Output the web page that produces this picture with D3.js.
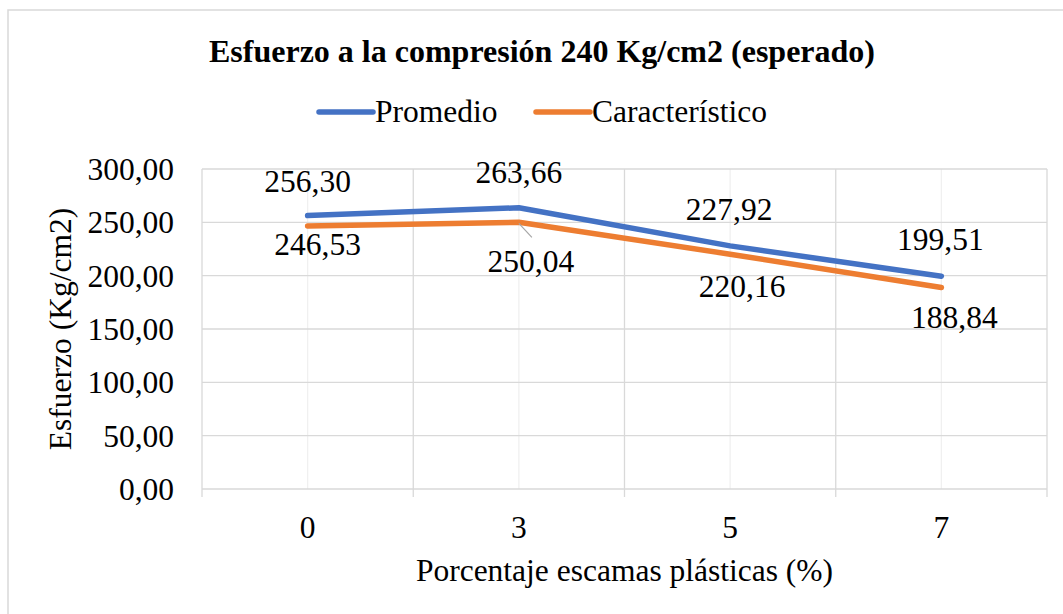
<!DOCTYPE html>
<html>
<head>
<meta charset="utf-8">
<script src="https://cdn.jsdelivr.net/npm/d3@7"></script>
<style>
  html, body { margin: 0; padding: 0; background: #fff; overflow: hidden; }
</style>
</head>
<body>
<div id="chart"></div>
<script>
// ---------------
// data
var categories = ["0", "3", "5", "7"];
var promedio = [256.30, 263.66, 227.92, 199.51];
var caracteristico = [246.53, 250.04, 220.16, 188.84];
var seriesNames = ["Promedio", "Característico"];
var yTicks = [0, 50, 100, 150, 200, 250, 300];

var chartTitle = "Esfuerzo a la compresión 240 Kg/cm2 (esperado)";
var xTitle = "Porcentaje escamas plásticas (%)";
var yTitle = "Esfuerzo (Kg/cm2)";

// label nudges (dx, dy from the point), as placed in the original
var labelNudge = [
    [[0, -24], [0, -25], [-1, -26], [-1, -26]],
    [[10, 29], [12, 50], [12, 43], [13, 40]]
];

var colors = ["#4472C4", "#ED7D31"];
var FF = "'Liberation Serif', 'Times New Roman', serif";
var FS = 31.5;

var W = 1063, H = 614;
var margin = { top: 169, right: 16, bottom: 125, left: 202 };
var width = W - margin.left - margin.right,
    height = H - margin.top - margin.bottom;

var svg = d3.select("#chart").append("svg")
    .attr("width", W)
    .attr("height", H);

// chart frame (cropped on right and bottom)
svg.append("rect")
    .attr("x", 8).attr("y", 10)
    .attr("width", W + 20).attr("height", H + 20)
    .attr("fill", "#fff")
    .attr("stroke", "#d9d9d9")
    .attr("stroke-width", 1.5);

var g = svg.append("g")
    .attr("transform", "translate(" + margin.left + "," + margin.top + ")");

var x = d3.scaleBand().domain(categories).range([0, width]).padding(0);
var y = d3.scaleLinear().domain([0, 300]).range([height, 0]);
var bw = x.bandwidth();
var cx = function(c) { return x(c) + bw / 2; };

var fmt = d3.formatLocale({ decimal: ",", thousands: ".", grouping: [3], currency: ["", ""] }).format(".2f");

// minor vertical grid at category centres
g.selectAll("line.vminor").data(categories).enter().append("line")
    .attr("x1", cx).attr("x2", cx)
    .attr("y1", 0).attr("y2", height)
    .attr("stroke", "#f0f0f0").attr("stroke-width", 1.3);

// major vertical grid at category boundaries
var bounds = categories.map(function(c) { return x(c); }).concat([width]);
g.selectAll("line.vmajor").data(bounds).enter().append("line")
    .attr("x1", function(d) { return d; }).attr("x2", function(d) { return d; })
    .attr("y1", 0).attr("y2", height + 8)
    .attr("stroke", "#d9d9d9").attr("stroke-width", 1.3);

// horizontal grid
g.selectAll("line.hgrid").data(yTicks).enter().append("line")
    .attr("x1", 0).attr("x2", width)
    .attr("y1", function(d) { return y(d); }).attr("y2", function(d) { return y(d); })
    .attr("stroke", "#d9d9d9").attr("stroke-width", 1.3);

// y axis labels
var yAxis = d3.axisLeft(y).tickValues(yTicks).tickFormat(fmt).tickSize(0).tickPadding(28);
var ya = g.append("g").call(yAxis);
ya.select(".domain").remove();
ya.selectAll("text")
    .style("font-family", FF)
    .style("font-size", FS + "px").attr("fill", "#000").attr("dy", "0.33em");

// x axis labels
var xAxis = d3.axisBottom(x).tickSize(0).tickPadding(27);
var xa = g.append("g").attr("transform", "translate(0," + height + ")").call(xAxis);
xa.select(".domain").remove();
xa.selectAll("text")
    .style("font-family", FF)
    .style("font-size", FS + "px").attr("fill", "#000").attr("dy", "0.71em");

// lines
var series = [promedio, caracteristico];
var line = d3.line()
    .x(function(d, i) { return cx(categories[i]); })
    .y(function(d) { return y(d); });

series.forEach(function(s, k) {
    g.append("path")
        .datum(s)
        .attr("d", line)
        .attr("fill", "none")
        .attr("stroke", colors[k])
        .attr("stroke-width", 5.5)
        .attr("stroke-linecap", "round")
        .attr("stroke-linejoin", "round");
});

// leader line for the moved label
g.append("line")
    .attr("x1", cx(categories[1])).attr("y1", y(caracteristico[1]) + 1)
    .attr("x2", cx(categories[1]) + 13).attr("y2", y(caracteristico[1]) + 15)
    .attr("stroke", "#a6a6a6").attr("stroke-width", 1.2);

// data labels
series.forEach(function(s, k) {
    g.selectAll("text.lbl" + k).data(s).enter().append("text")
        .attr("x", function(d, i) { return cx(categories[i]) + labelNudge[k][i][0]; })
        .attr("y", function(d, i) { return y(d) + labelNudge[k][i][1]; })
        .attr("text-anchor", "middle")
        .style("font-family", FF)
        .style("font-size", FS + "px")
        .attr("fill", "#000")
        .text(fmt);
});

// title
svg.append("text")
    .attr("x", 542).attr("y", 62)
    .attr("text-anchor", "middle")
    .style("font-family", FF)
    .style("font-size", "32px")
    .style("font-weight", "bold")
    .text(chartTitle);

// legend
var legendX = [319, 536];
seriesNames.forEach(function(n, k) {
    svg.append("line")
        .attr("x1", legendX[k]).attr("x2", legendX[k] + 54)
        .attr("y1", 112).attr("y2", 112)
        .attr("stroke", colors[k]).attr("stroke-width", 5.5)
        .attr("stroke-linecap", "round");
    svg.append("text")
        .attr("x", legendX[k] + 56).attr("y", 122)
        .style("font-family", FF)
        .style("font-size", FS + "px")
        .text(n);
});

// axis titles
svg.append("text")
    .attr("x", margin.left + width / 2).attr("y", 581)
    .attr("text-anchor", "middle")
    .style("font-family", FF)
    .style("font-size", FS + "px")
    .text(xTitle);

svg.append("text")
    .attr("transform", "translate(71," + (margin.top + height / 2) + ") rotate(-90)")
    .attr("text-anchor", "middle")
    .style("font-family", FF)
    .style("font-size", FS + "px")
    .text(yTitle);
</script>
</body>
</html>
